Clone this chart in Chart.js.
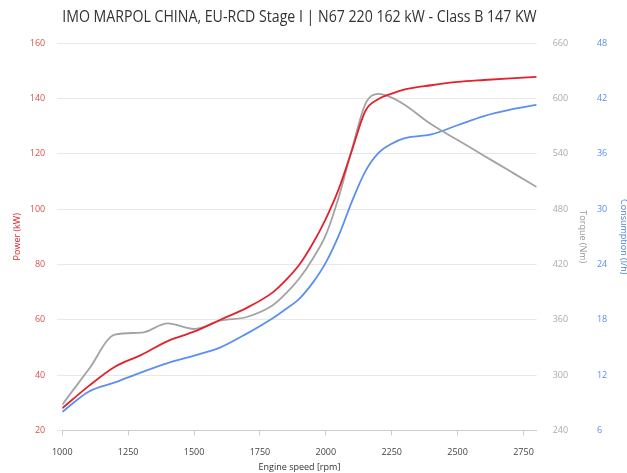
<!DOCTYPE html>
<html>
<head>
<meta charset="utf-8">
<script src="https://cdn.jsdelivr.net/npm/chart.js@4"></script>
<style>
  html, body { margin: 0; padding: 0; background: #fff; }
  #wrap { width: 627px; height: 473px; }
</style>
</head>
<body>
<div id="wrap"><canvas id="chart" width="627" height="473"></canvas></div>
<script>
// engine speed samples (rpm)
const rpm = [1000, 1100, 1200, 1300, 1400, 1500, 1600, 1700, 1800, 1850, 1900, 1950, 2000, 2050, 2100, 2150, 2200, 2250, 2300, 2400, 2500, 2600, 2700, 2800];
// power kW
const power = [28, 36, 43, 47.3, 52.3, 55.7, 60, 64.3, 70, 74.5, 80, 87.5, 96.5, 107.5, 121.5, 135.5, 139.8, 141.8, 143.3, 144.8, 146, 146.7, 147.3, 147.8];
// torque Nm
const torque = [268, 306, 344, 346, 356, 350, 359, 363, 376, 389, 405, 426, 452, 494, 546, 594, 605, 601, 593, 572, 555, 538, 521, 504];
// consumption l/h
const consumption = [8.0, 10.2, 11.2, 12.3, 13.3, 14.1, 15.0, 16.5, 18.2, 19.2, 20.3, 22, 24.2, 27.2, 30.9, 34.1, 36.1, 37.1, 37.7, 38.1, 39.1, 40.1, 40.8, 41.3];
// x axis tick labels
const xTicks = [1000, 1250, 1500, 1750, 2000, 2250, 2500, 2750];

const RED = '#e3222b', GREY = '#a3a3a3', BLUE = '#5b8ff0';
const pts = arr => arr.map((v, i) => ({ x: rpm[i], y: v }));
const font = { family: 'Open Sans', size: 9 };

function line(label, data, color, axis) {
  return {
    label, data: pts(data), yAxisID: axis,
    borderColor: color, backgroundColor: color, borderWidth: 1.8,
    pointRadius: 0, fill: false, cubicInterpolationMode: 'monotone'
  };
}

new Chart(document.getElementById('chart'), {
  type: 'line',
  data: {
    datasets: [
      line('Power', power, RED, 'yP'),
      line('Torque', torque, GREY, 'yT'),
      line('Consumption', consumption, BLUE, 'yC')
    ]
  },
  options: {
    responsive: false,
    animation: false,
    layout: { padding: { top: 5, left: 6, right: 0, bottom: 0 } },
    plugins: {
      legend: { display: false },
      tooltip: { enabled: false },
      title: {
        display: true, fullSize: false,
        text: 'IMO MARPOL CHINA, EU-RCD Stage I | N67 220 162 kW - Class B 147 KW',
        color: '#333', font: { family: 'Open Sans', size: 16, weight: 'normal' },
        padding: { top: 3, bottom: 16 }
      }
    },
    scales: {
      x: {
        type: 'linear', min: 1000, max: 2800,
        afterBuildTicks: s => { s.ticks = xTicks.map(v => ({ value: v })); },
        grid: { drawOnChartArea: false, drawTicks: true, tickLength: 5, color: '#ccc' },
        border: { color: '#ccc' },
        ticks: { autoSkip: false, color: '#444', font, maxRotation: 0, padding: 12,
                 callback: v => String(v) },
        title: { display: true, text: 'Engine speed [rpm]', color: '#333', font, padding: { top: -8, bottom: 0 } }
      },
      yP: {
        position: 'left', min: 20, max: 160,
        grid: { color: '#e8e8e8', tickLength: 5, tickColor: '#e8e8e8' },
        border: { display: false },
        ticks: { stepSize: 20, color: '#d9534f', font, padding: 12 },
        title: { display: true, text: 'Power (kW)', color: RED, font, padding: { top: 6, bottom: -5 } }
      },
      yT: {
        position: 'right', min: 240, max: 660,
        grid: { drawOnChartArea: false, drawTicks: false },
        border: { display: false },
        ticks: { stepSize: 60, color: '#aaa', font, padding: 16 },
        title: { display: true, text: 'Torque (Nm)', color: '#999', font, padding: { top: -2, bottom: -7 } }
      },
      yC: {
        position: 'right', min: 6, max: 48,
        grid: { drawOnChartArea: false, drawTicks: false },
        border: { display: false },
        ticks: { stepSize: 6, color: '#5b8def', font, padding: 11 },
        title: { display: true, text: 'Consumption (l/h)', color: '#4a80e8', font, padding: { top: -2, bottom: 0 } }
      }
    }
  }
});
</script>
</body>
</html>
